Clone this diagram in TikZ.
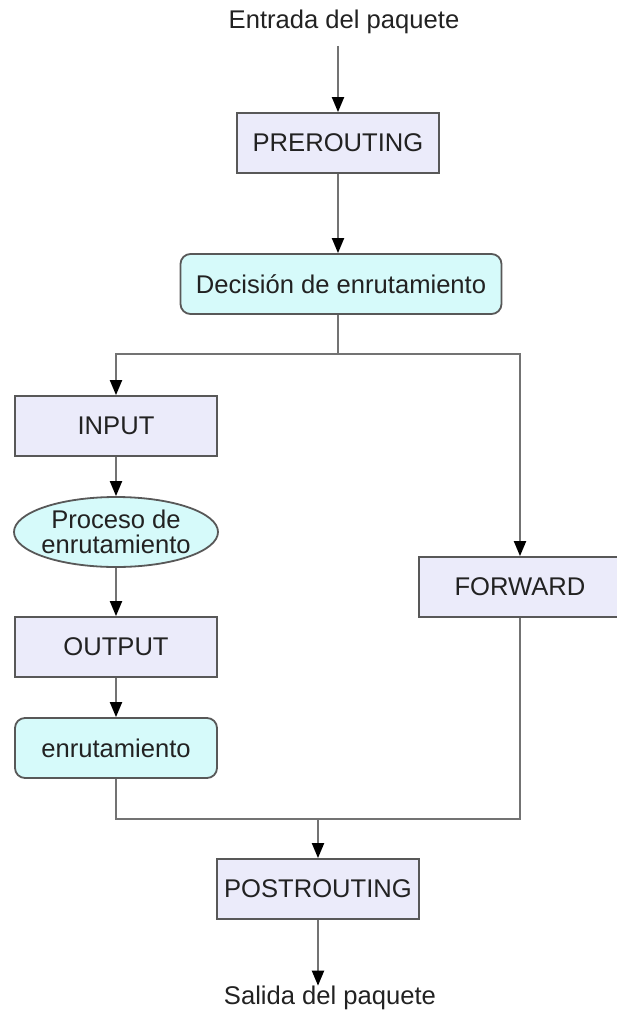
\documentclass[tikz,border=0pt]{standalone}
\usepackage{fontspec}
\setmainfont{Liberation Sans}
\usetikzlibrary{positioning,arrows.meta,shapes.geometric}
\definecolor{cline}{HTML}{737373}
\definecolor{cborder}{HTML}{585858}
\definecolor{clavender}{HTML}{EBEBFA}
\definecolor{ccyan}{HTML}{D6FAFA}
\definecolor{ctext}{HTML}{222222}
\tikzset{
  chainbox/.style={draw=cborder, line width=0.9pt, fill=clavender, text=ctext,
    minimum width=101pt, minimum height=30pt, inner sep=0pt,
    font=\fontsize{12.8}{15.4}\selectfont},
  routebox/.style={chainbox, fill=ccyan, rounded corners=5pt},
  procnode/.style={ellipse, draw=cborder, line width=0.9pt, fill=ccyan, text=ctext,
    minimum width=102pt, minimum height=35pt, inner xsep=-4pt, inner ysep=-5pt,
    align=center, font=\fontsize{12.8}{12.6}\selectfont},
  endtext/.style={text=ctext, inner sep=0pt, font=\fontsize{12.8}{15.4}\selectfont},
  flowline/.style={draw=cline, line width=1pt},
  flowarrow/.style={flowline, -{Triangle[length=7.5pt, width=6pt, color=black]}}
}
\begin{document}
\begin{tikzpicture}[x=0.5pt, y=-0.5pt]
    \useasboundingbox (0,0) rectangle (616,1011);
    \node[endtext] (entrada) at (344,22) {Entrada del paquete};
    \node[chainbox] (prerouting) at (338,143) {PREROUTING};
    \node[routebox, minimum width=160.5pt] (decision) at (341,284) {Decisión de enrutamiento};
    \node[chainbox] (input) at (116,426) {INPUT};
    \node[procnode] (proceso) at (116,532) {Proceso de\\enrutamiento};
    \node[chainbox] (output) at (116,647) {OUTPUT};
    \node[routebox] (enrut) at (116,748) {enrutamiento};
    \node[chainbox] (forward) at (520,587) {FORWARD};
    \node[chainbox] (postrouting) at (318,889) {POSTROUTING};
    \node[endtext] (salida) at (330,998) {Salida del paquete};
    \coordinate (split) at (338,354);
    \coordinate (join) at (318,819);

    \draw[flowarrow] (338,46) -- (prerouting);
    \draw[flowarrow] (prerouting) -- (prerouting |- decision.north);
    \draw[flowline] (decision.south -| prerouting) -- (split);
    \draw[flowarrow] (split) -| (input);
    \draw[flowarrow] (split) -| (forward);
    \draw[flowarrow] (input) -- (proceso);
    \draw[flowarrow] (proceso) -- (output);
    \draw[flowarrow] (output) -- (enrut);
    \draw[flowline] (enrut) |- (join);
    \draw[flowline] (forward) |- (join);
    \draw[flowarrow] (join) -- (postrouting);
    \draw[flowarrow] (postrouting) -- (postrouting |- salida.north);
  \end{tikzpicture}
\end{document}
